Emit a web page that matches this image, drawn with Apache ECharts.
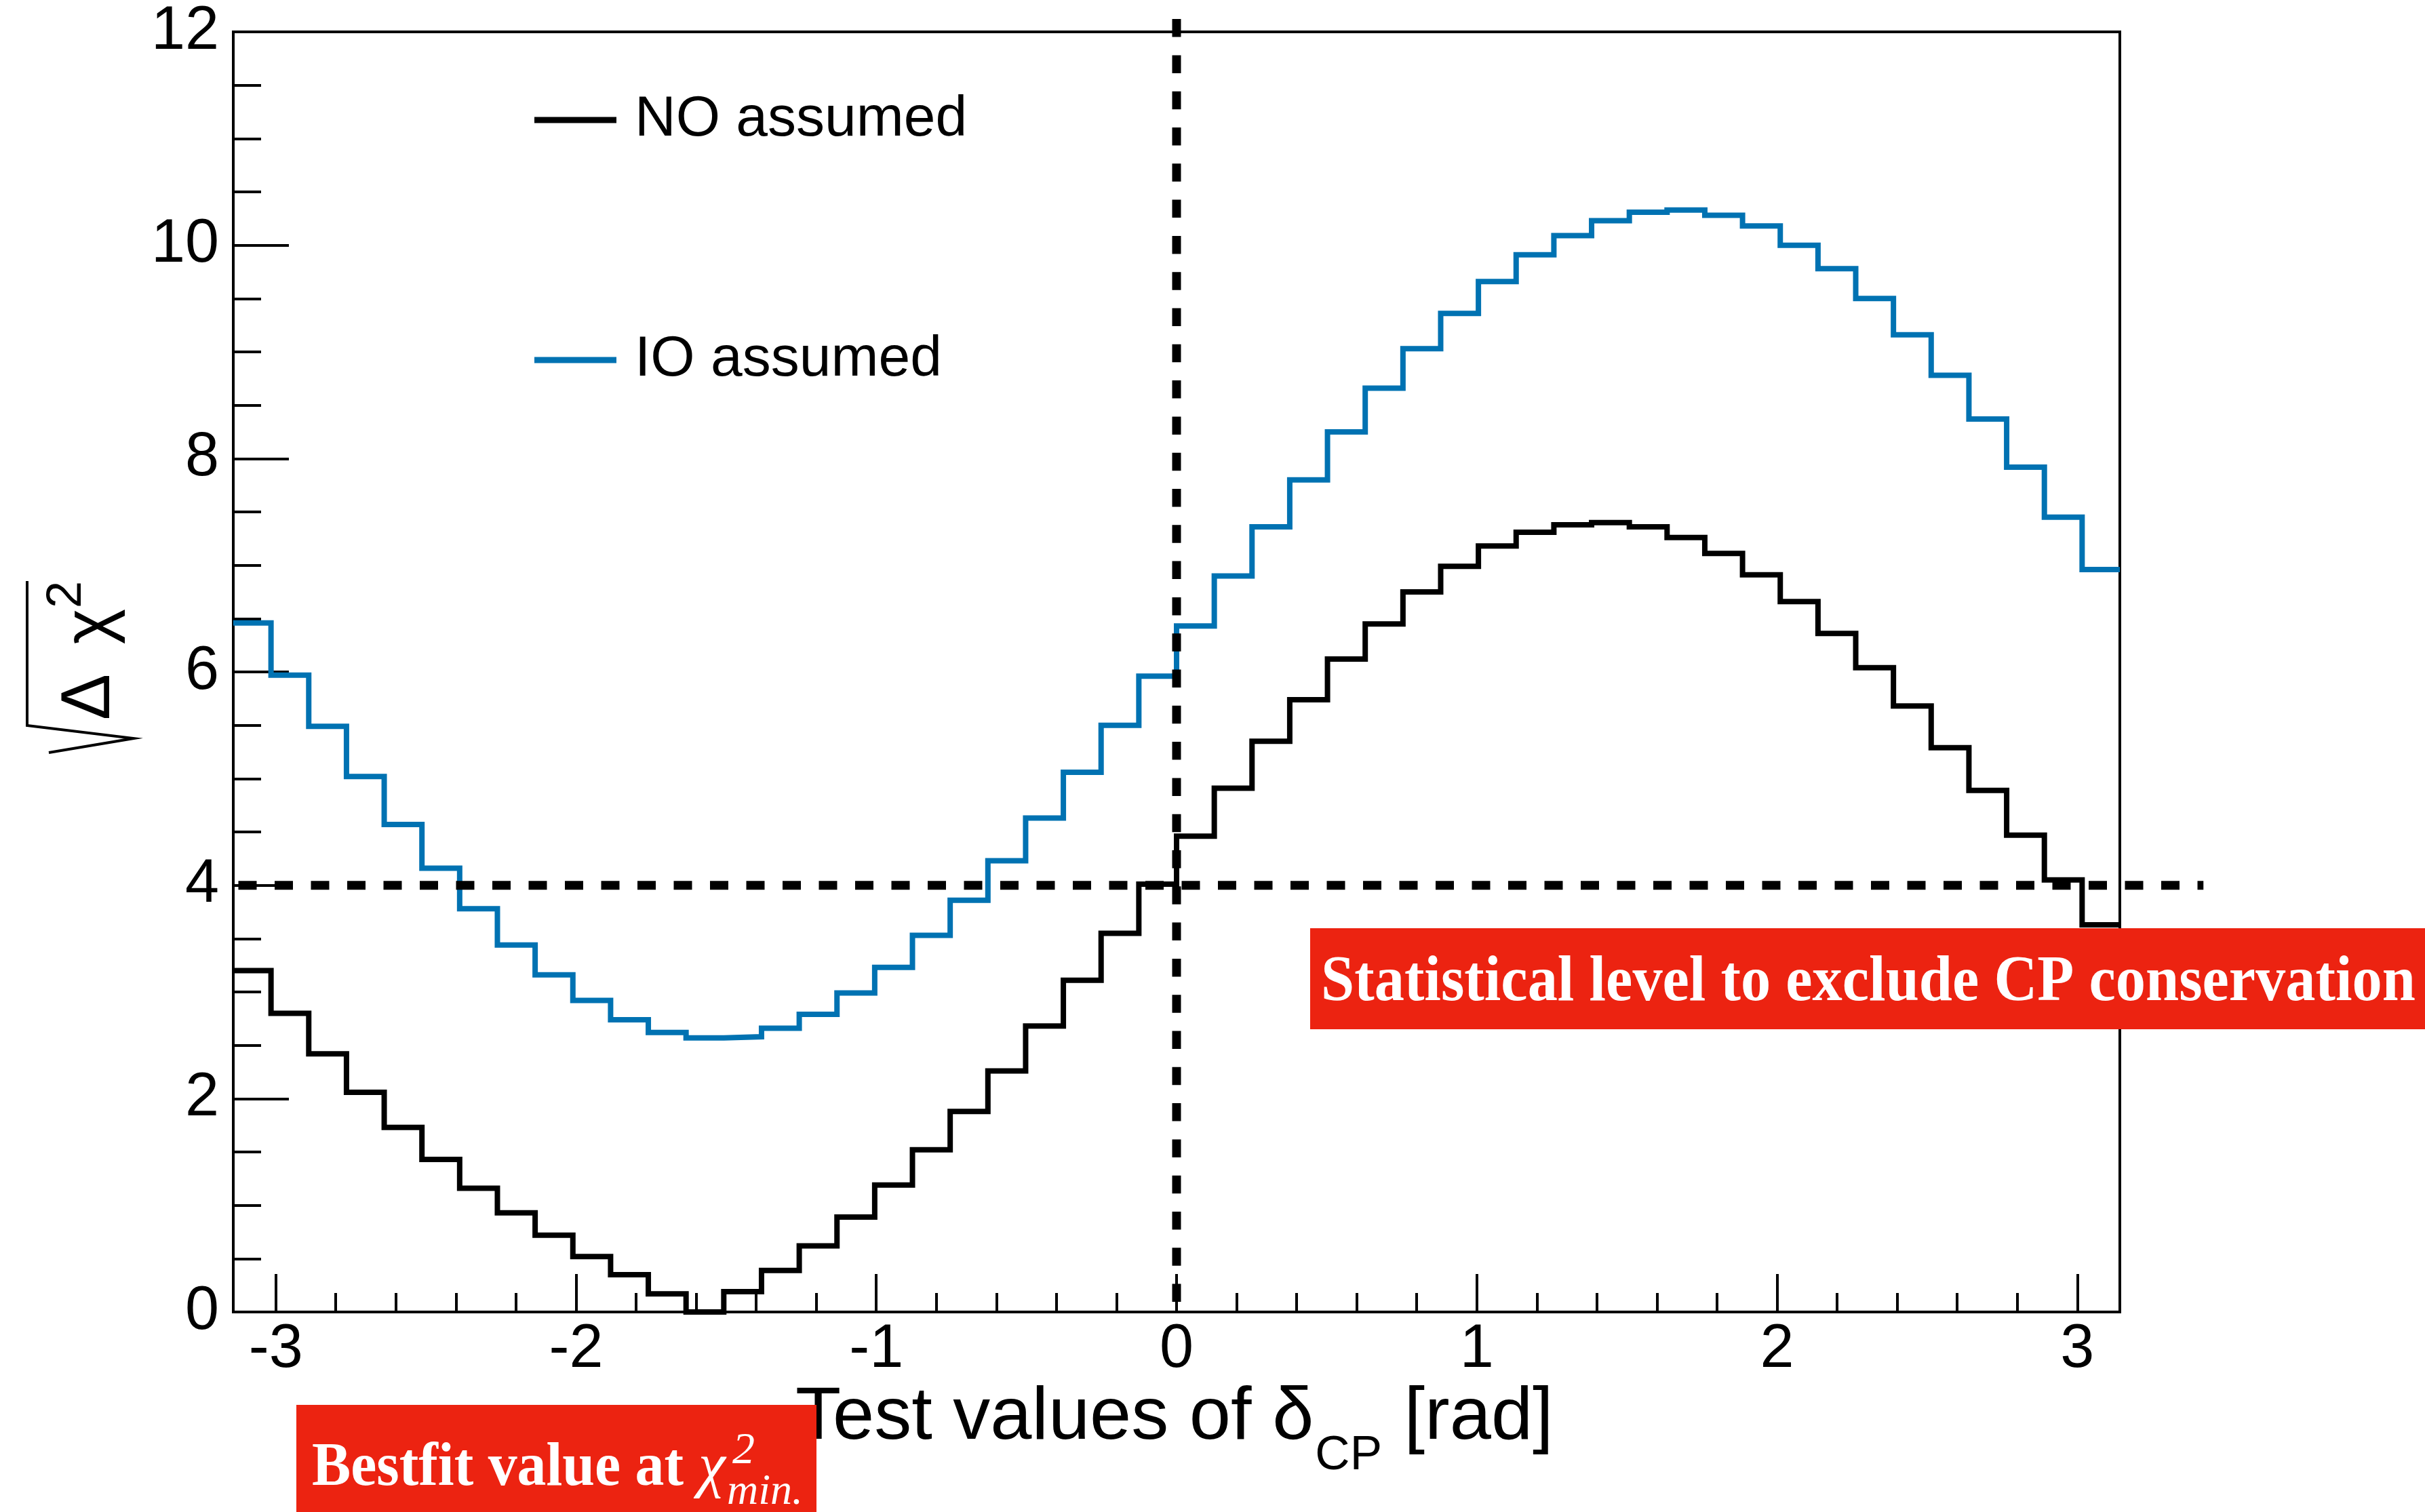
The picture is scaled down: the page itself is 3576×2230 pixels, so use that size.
<!DOCTYPE html>
<html>
<head>
<meta charset="utf-8">
<script src="https://cdn.jsdelivr.net/npm/echarts@6/dist/echarts.min.js"></script>
<style>
  html, body { margin: 0; padding: 0; background: #fff; }
  #chart { width: 3576px; height: 2230px; }
</style>
</head>
<body>
<div id="chart"></div>
<script>
// sqrt(Delta chi^2) versus the tested delta_CP value, 50 bins over [-pi, pi]
const N_BINS = 50;
const X_MIN = -Math.PI;
const X_MAX = Math.PI;

// bin contents, NO (normal ordering) assumed
const noValues = [
  3.20, 2.80, 2.42, 2.06, 1.73, 1.43, 1.16, 0.93, 0.72, 0.52,
  0.35, 0.17, 0.00, 0.19, 0.39, 0.62, 0.89, 1.19, 1.52, 1.88,
  2.26, 2.68, 3.11, 3.55, 4.01, 4.46, 4.91, 5.35, 5.74, 6.12,
  6.45, 6.75, 6.99, 7.18, 7.31, 7.38, 7.40, 7.36, 7.26, 7.11,
  6.91, 6.66, 6.36, 6.04, 5.68, 5.29, 4.89, 4.47, 4.05, 3.63
];

// bin contents, IO (inverted ordering) assumed
const ioValues = [
  6.46, 5.97, 5.49, 5.02, 4.57, 4.16, 3.78, 3.44, 3.16, 2.92,
  2.74, 2.62, 2.57, 2.58, 2.66, 2.79, 2.99, 3.23, 3.53, 3.86,
  4.23, 4.63, 5.06, 5.50, 5.96, 6.43, 6.90, 7.36, 7.80, 8.25,
  8.66, 9.03, 9.36, 9.66, 9.91, 10.09, 10.23, 10.31, 10.33, 10.28,
  10.18, 10.00, 9.78, 9.50, 9.16, 8.78, 8.37, 7.92, 7.45, 6.96
];

// axis ticks
const xMajorTicks = [-3, -2, -1, 0, 1, 2, 3];
const xMinorTicks = [
  -2.8, -2.6, -2.4, -2.2, -1.8, -1.6, -1.4, -1.2, -0.8, -0.6, -0.4, -0.2,
  0.2, 0.4, 0.6, 0.8, 1.2, 1.4, 1.6, 1.8, 2.2, 2.4, 2.6, 2.8
];
const Y_MIN = 0, Y_MAX = 12, Y_STEP = 2;

// reference lines: 4 sigma level and CP conserving delta_CP = 0
const sigmaLevel = 4;
const sigmaLineEnd = 3.42;
const cpConserving = 0;
const cpLineTop = 12.12;

const seriesNames = ['NO assumed', 'IO assumed'];
const COLOR_NO = '#000000';
const COLOR_IO = '#0072b2';
const RED = '#ec2311';

// frame geometry
const W = 3576;
const GRID_LEFT = 344, GRID_RIGHT = 450, GRID_TOP = 47, GRID_BOTTOM = 295;
const plotW = W - GRID_LEFT - GRID_RIGHT;
// the sigma line runs past the right frame edge: give it its own, wider grid
// sharing the same scale per radian
const sigmaGridRight = W - (GRID_LEFT + (sigmaLineEnd - X_MIN) / (X_MAX - X_MIN) * plotW);

// histogram outline: each bin holds its value from its low edge to the next edge
function histPoints(values) {
  const w = (X_MAX - X_MIN) / N_BINS;
  const pts = values.map((v, i) => [X_MIN + i * w, v]);
  pts.push([X_MAX, values[values.length - 1]]);
  return pts;
}

const mctx = document.createElement('canvas').getContext('2d');
function textW(t, font) { mctx.font = font; return mctx.measureText(t).width; }

const SANS = '"Liberation Sans", Arial, Helvetica, sans-serif';
const SERIF = '"Liberation Serif", "Times New Roman", serif';

// x-axis title pieces
const fTitle = '110px ' + SANS;
const fTitleSub = '71px ' + SANS;
const xt0 = 1173;
const wT1 = textW('Test values of δ', fTitle);
const wT2 = textW('CP', fTitleSub);

// annotation boxes
const fBox = 'bold 95px ' + SERIF;
const box1Text = 'Statistical level to exclude CP conservation';
const box1Scale = 1614 / textW(box1Text, fBox);
const fBox2 = 'bold 92px ' + SERIF;
const box2Text = 'Bestfit value at';
const box2Scale = 548 / textW(box2Text, fBox2);

const chart = echarts.init(document.getElementById('chart'), null, { renderer: 'canvas' });

const hiddenAxis = {
  show: false, axisLine: { show: false }, axisTick: { show: false },
  axisLabel: { show: false }, splitLine: { show: false }
};

const option = {
  backgroundColor: '#ffffff',
  animation: false,
  grid: [
    {
      left: GRID_LEFT, right: GRID_RIGHT, top: GRID_TOP, bottom: GRID_BOTTOM,
      show: true, borderColor: '#000', borderWidth: 4,
      containLabel: false, outerBoundsMode: 'none'
    },
    {
      left: GRID_LEFT, right: sigmaGridRight, top: GRID_TOP, bottom: GRID_BOTTOM,
      show: false, containLabel: false, outerBoundsMode: 'none'
    }
  ],
  legend: {
    orient: 'vertical',
    left: 788, top: 120,
    padding: 0,
    itemWidth: 121, itemHeight: 9, itemGap: 240,
    icon: 'rect',
    selectedMode: false,
    textStyle: {
      fontFamily: SANS, fontSize: 84, color: '#000',
      lineHeight: 100, padding: [14, 0, 0, 22]
    },
    data: seriesNames
  },
  xAxis: [
    {
      type: 'value', gridIndex: 0, min: X_MIN, max: X_MAX, position: 'bottom',
      axisLine: { show: true, onZero: false, lineStyle: { color: '#000', width: 4 } },
      axisTick: { show: true, inside: true, length: 56, customValues: xMajorTicks,
                  lineStyle: { color: '#000', width: 4 } },
      axisLabel: { show: true, customValues: xMajorTicks, margin: 11,
                   fontFamily: SANS, fontSize: 90, color: '#000',
                   formatter: v => String(v) },
      splitLine: { show: false }
    },
    {
      type: 'value', gridIndex: 0, min: X_MIN, max: X_MAX, position: 'bottom',
      axisLine: { show: false, onZero: false },
      axisTick: { show: true, inside: true, length: 28, customValues: xMinorTicks,
                  lineStyle: { color: '#000', width: 4 } },
      axisLabel: { show: false },
      splitLine: { show: false }
    },
    Object.assign({ type: 'value', gridIndex: 1, min: X_MIN, max: sigmaLineEnd }, hiddenAxis)
  ],
  yAxis: [
    {
      type: 'value', gridIndex: 0, min: Y_MIN, max: Y_MAX, interval: Y_STEP,
      axisLine: { show: true, onZero: false, lineStyle: { color: '#000', width: 4 } },
      axisTick: { show: true, inside: true, length: 82, lineStyle: { color: '#000', width: 4 } },
      minorTick: { show: true, splitNumber: 4, length: 41, lineStyle: { color: '#000', width: 4 } },
      axisLabel: { margin: 21, fontFamily: SANS, fontSize: 90, color: '#000' },
      splitLine: { show: false },
      minorSplitLine: { show: false }
    },
    Object.assign({ type: 'value', gridIndex: 1, min: Y_MIN, max: Y_MAX }, hiddenAxis)
  ],
  series: [
    {
      name: seriesNames[0], type: 'line', step: 'end', xAxisIndex: 0, yAxisIndex: 0,
      data: histPoints(noValues), symbol: 'none', color: COLOR_NO,
      lineStyle: { color: COLOR_NO, width: 8, cap: 'butt', join: 'miter' },
      z: 3
    },
    {
      name: seriesNames[1], type: 'line', step: 'end', xAxisIndex: 0, yAxisIndex: 0,
      data: histPoints(ioValues), symbol: 'none', color: COLOR_IO,
      lineStyle: { color: COLOR_IO, width: 8, cap: 'butt', join: 'miter' },
      z: 3
    },
    {
      name: 'sigma level', type: 'line', xAxisIndex: 2, yAxisIndex: 1, silent: true,
      data: [[X_MIN, sigmaLevel], [sigmaLineEnd, sigmaLevel]], symbol: 'none',
      lineStyle: { color: '#000', width: 13, type: [27, 26.5], dashOffset: 46, cap: 'butt' },
      z: 5
    },
    {
      name: 'cp conserving', type: 'line', xAxisIndex: 0, yAxisIndex: 0, clip: false, silent: true,
      data: [[cpConserving, cpLineTop], [cpConserving, 0]], symbol: 'none',
      lineStyle: { color: '#000', width: 13, type: [26.5, 26.8], cap: 'butt' },
      z: 5
    }
  ],
  graphic: [
    // y-axis title: sqrt(Delta chi^2), read bottom to top
    {
      type: 'group', x: 170, y: 1100, rotation: Math.PI / 2, z: 50,
      children: [
        { type: 'polyline',
          shape: { points: [[243, -130], [30, -130], [11, 27], [-10, -98]] },
          style: { stroke: '#000', lineWidth: 4, fill: null, lineJoin: 'miter' } },
        { type: 'text', x: 72, y: -37,
          style: { text: 'Δ', font: '102px ' + SANS, fill: '#000', align: 'center', verticalAlign: 'middle' } },
        { type: 'text', x: 176, y: -35,
          style: { text: 'χ', font: '100px ' + SANS, fill: '#000', align: 'center', verticalAlign: 'middle' } },
        { type: 'text', x: 223, y: -71,
          style: { text: '2', font: '72px ' + SANS, fill: '#000', align: 'center', verticalAlign: 'middle' } }
      ]
    },
    // x-axis title
    { type: 'text', x: xt0, y: 2092, z: 50,
      style: { text: 'Test values of δ', font: fTitle, fill: '#000', align: 'left', verticalAlign: 'middle' } },
    { type: 'text', x: xt0 + wT1 + 2, y: 2147, z: 50,
      style: { text: 'CP', font: fTitleSub, fill: '#000', align: 'left', verticalAlign: 'middle' } },
    { type: 'text', x: xt0 + wT1 + wT2 + 4, y: 2092, z: 50,
      style: { text: ' [rad]', font: fTitle, fill: '#000', align: 'left', verticalAlign: 'middle' } },
    // annotation: statistical level
    { type: 'rect', z: 100,
      shape: { x: 1932, y: 1369, width: W - 1932, height: 149 },
      style: { fill: RED } },
    { type: 'text', x: 1948, y: 1450, scaleX: box1Scale, z: 101,
      style: { text: box1Text, font: fBox, fill: '#fff', align: 'left', verticalAlign: 'middle' } },
    // annotation: best fit
    { type: 'rect', z: 100,
      shape: { x: 437, y: 2072, width: 767, height: 158 },
      style: { fill: RED } },
    { type: 'text', x: 460, y: 2166, scaleX: box2Scale, z: 101,
      style: { text: box2Text, font: fBox2, fill: '#fff', align: 'left', verticalAlign: 'middle' } },
    { type: 'text', x: 1030, y: 2167, z: 101,
      style: { text: 'χ', font: 'italic 90px ' + SERIF, fill: '#fff', align: 'left', verticalAlign: 'middle' } },
    { type: 'text', x: 1080, y: 2141, z: 101,
      style: { text: '2', font: 'italic 66px ' + SERIF, fill: '#fff', align: 'left', verticalAlign: 'middle' } },
    { type: 'text', x: 1072, y: 2201, z: 101,
      style: { text: 'min.', font: 'italic 64px ' + SERIF, fill: '#fff', align: 'left', verticalAlign: 'middle' } }
  ]
};

chart.setOption(option);
</script>
</body>
</html>
